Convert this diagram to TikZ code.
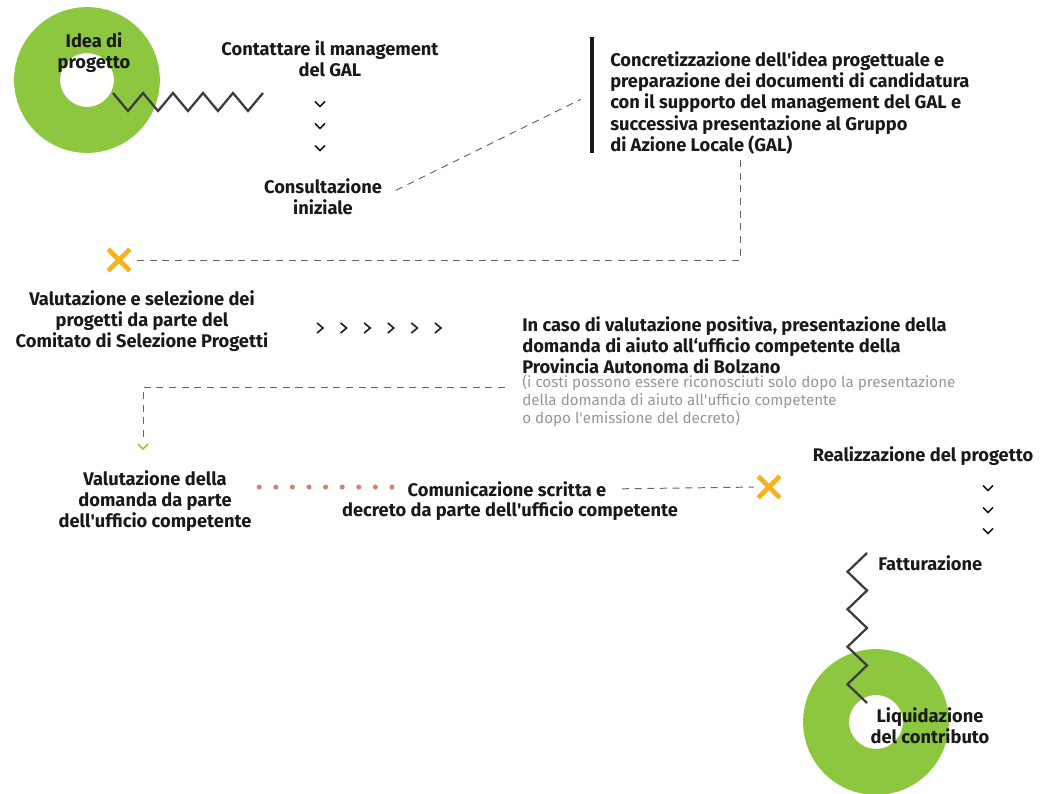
\documentclass[tikz,border=0pt]{standalone}
\usepackage{fontspec}
\setmainfont{Fira Sans}
\usetikzlibrary{shapes.misc}

\definecolor{ringgreen}{RGB}{141,198,63}
\definecolor{crossorange}{RGB}{245,180,30}
\definecolor{dotred}{RGB}{214,128,118}
\definecolor{notegray}{RGB}{150,150,150}
\definecolor{ink}{RGB}{25,25,25}

\newcommand{\ap}{\textquotesingle}

\tikzset{
  ring/.style={circle, draw=ringgreen, line width=32.7pt, minimum size=71pt, inner sep=0pt},
  steptext/.style={font=\bfseries\fontsize{13}{15}\selectfont, text=ink, align=center, inner sep=0pt},
  notetext/.style={font=\fontsize{10.8}{12.8}\selectfont, text=notegray, align=left, inner sep=0pt},
  link/.style={draw=black!60, line width=0.7pt, dash pattern=on 5pt off 4pt},
  zig/.style={draw=ink!85, line width=1.6pt},
  chev/.style={draw=ink, line width=1.1pt},
  crossmark/.style={cross out, draw=crossorange, line width=3.4pt, minimum size=12pt, inner sep=0pt},
}

\begin{document}
\begin{tikzpicture}[x=0.025cm, y=-0.025cm]
\useasboundingbox (0,0) rectangle (1042,794);

% rings
\node[ring] (idea) at (87,80) {};
\node[ring] (payout) at (876,722) {};

% steps
\node[steptext] (ideatxt) at (94,53) {Idea di\\progetto};
\node[steptext] (contact) at (330,59) {Contattare il management\\del GAL};
\node[steptext] (consult) at (323,197) {Consultazione\\iniziale};
\node[fill=ink, minimum width=3pt, minimum height=82pt, inner sep=0pt] (bar) at (592,95) {};
\node[steptext, align=left, anchor=west] (concept) at (610,103) {Concretizzazione dell\ap idea progettuale e\\preparazione dei documenti di candidatura\\con il supporto del management del GAL e\\successiva presentazione al Gruppo\\di Azione Locale (GAL)};
\node[crossmark] (cross1) at (119,260) {};
\node[steptext] (select) at (142,321) {Valutazione e selezione dei\\progetti da parte del\\Comitato di Selezione Progetti};
\node[steptext, align=left, anchor=west] (request) at (522,345) {In caso di valutazione positiva, presentazione della\\domanda di aiuto all`ufficio competente della\\Provincia Autonoma di Bolzano};
\node[notetext, anchor=west] (note) at (522,401) {(i costi possono essere riconosciuti solo dopo la presentazione\\della domanda di aiuto all\ap ufficio competente\\o dopo l\ap emissione del decreto)};
\node[steptext] (review) at (155,501) {Valutazione della\\domanda da parte\\dell\ap ufficio competente};
\node[steptext] (notice) at (507,489) {Comunicazione scritta e};
\node[steptext] (decree) at (510,511) {decreto da parte dell\ap ufficio competente};
\node[crossmark] (cross2) at (769,487) {};
\node[steptext] (realise) at (923,456) {Realizzazione del progetto};
\node[steptext, anchor=west] (invoice) at (878,563) {Fatturazione};
\node[steptext] (payouttxt) at (930,726) {Liquidazione\\del contributo};

% zigzags
\draw[zig] (idea.center) ++(26,13) \foreach \i in {1,...,5} { -- ++(15,18) -- ++(15,-18) };
\draw[zig] (invoice.west) ++(-11,-10) \foreach \i in {1,...,4} { -- ++(-19.5,18.75) -- ++(19.5,18.75) };

% dashed links
\coordinate (drop) at (740,160);
\coordinate (branch) at (505,387);
\coordinate (entry) at (143,441);
\draw[link, shorten <=11pt, shorten >=7pt] (consult.east) -- (bar.west);
\draw[link, shorten >=4pt] (drop) |- (cross1.east);
\draw[link] (branch) -| (entry);
\draw[link, shorten <=11pt, shorten >=3pt] (notice.east) -- (cross2.west);

% dots
\foreach \i in {0,...,8}
  \fill[dotred] ([xshift=-\i*11.8pt-11pt, yshift=1.4pt]notice.west) circle (1.8pt);

% chevrons
\foreach \y in {104,126,148}
  \draw[chev] (320,\y) +(-5,-2.5) -- +(0,2.5) -- +(5,-2.5);
\foreach \i in {0,...,5}
  \draw[chev] (320+23.6*\i,328) +(-3,-5) -- +(3,0) -- +(-3,5);
\foreach \y in {488,510,531}
  \draw[chev] (988,\y) +(-5,-2.5) -- +(0,2.5) -- +(5,-2.5);
\draw[chev, draw=ringgreen] (143,447) +(-5,-3) -- +(0,2) -- +(5,-3);

\end{tikzpicture}
\end{document}
